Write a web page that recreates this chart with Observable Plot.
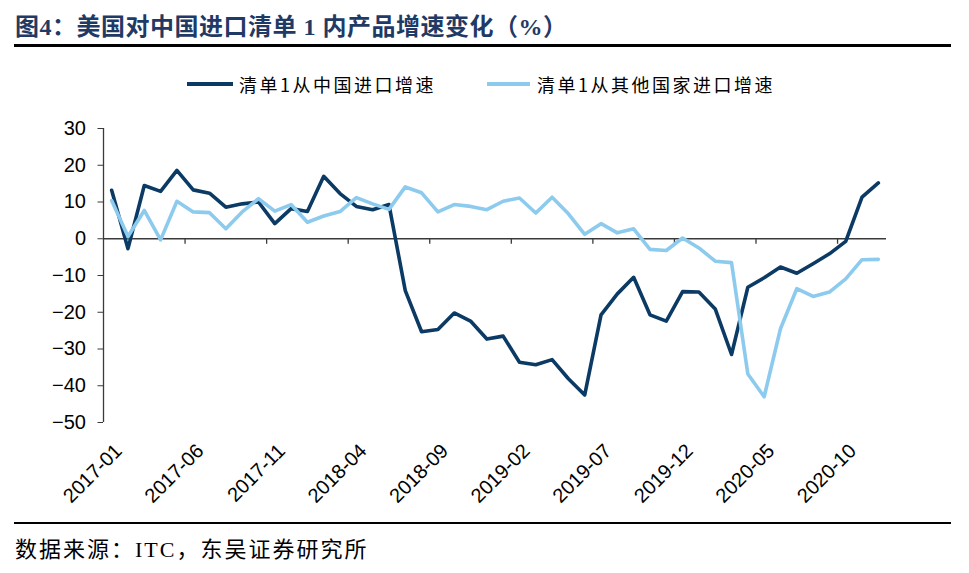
<!DOCTYPE html>
<html>
<head>
<meta charset="utf-8">
<script src="https://cdn.jsdelivr.net/npm/d3@7"></script>
<script src="https://cdn.jsdelivr.net/npm/@observablehq/plot@0.6"></script>
<style>
  html, body { margin: 0; padding: 0; background: #fff; }
  #wrap { position: relative; width: 969px; height: 573px; overflow: hidden; font-family: "Noto Sans CJK SC", sans-serif; }
  #title { position: absolute; left: 15px; top: 7px; font-size: 24px; letter-spacing: 0.5px; font-weight: bold; color: #1f3a64; font-family: "Liberation Serif", "Noto Sans CJK SC", serif; white-space: nowrap; }
  #rule1 { position: absolute; left: 14px; top: 44px; width: 937px; height: 3px; background: #000; }
  #rule2 { position: absolute; left: 14px; top: 522px; width: 937px; height: 2px; background: #000; }
  #caption { position: absolute; left: 15px; top: 531px; font-size: 22px; letter-spacing: 2px; color: #000; font-family: "Liberation Serif", "Noto Sans CJK SC", serif; white-space: nowrap; }
  .lg-line { position: absolute; height: 4px; top: 82px; }
  .lg-text { position: absolute; top: 70px; font-size: 18px; letter-spacing: 2.5px; color: #000; white-space: nowrap; line-height: 28px; }
  #chart { position: absolute; left: 0; top: 108px; }
</style>
</head>
<body>
<div id="wrap">
  <div id="title">图4：美国对中国进口清单 1 内产品增速变化（%）</div>
  <div id="rule1"></div>
  <div id="legend"></div>
  <div id="chart"></div>
  <div id="rule2"></div>
  <div id="caption">数据来源：ITC，东吴证券研究所</div>
</div>
<script>
const months = [
  "2017-01","2017-02","2017-03","2017-04","2017-05","2017-06","2017-07","2017-08","2017-09","2017-10","2017-11","2017-12",
  "2018-01","2018-02","2018-03","2018-04","2018-05","2018-06","2018-07","2018-08","2018-09","2018-10","2018-11","2018-12",
  "2019-01","2019-02","2019-03","2019-04","2019-05","2019-06","2019-07","2019-08","2019-09","2019-10","2019-11","2019-12",
  "2020-01","2020-02","2020-03","2020-04","2020-05","2020-06","2020-07","2020-08","2020-09","2020-10","2020-11","2020-12"
];
const seriesNames = ["清单1从中国进口增速", "清单1从其他国家进口增速"];
const seriesColors = ["#0b3a64", "#8dcbee"];
const chinaGrowth = [
  13.2, -2.7, 14.5, 12.9, 18.6, 13.3, 12.4, 8.6, 9.5, 10.0, 4.1, 8.2,
  7.4, 17.0, 12.3, 8.8, 7.9, 9.3, -14.1, -25.3, -24.7, -20.2, -22.4, -27.3,
  -26.5, -33.6, -34.3, -32.9, -38.1, -42.5, -20.7, -15.0, -10.5, -20.7, -22.4, -14.4,
  -14.5, -19.1, -31.5, -13.2, -10.6, -7.7, -9.4, -6.8, -4.1, -0.7, 11.3, 15.2
];
const otherGrowth = [
  10.4, 0.6, 7.7, -0.3, 10.2, 7.3, 7.1, 2.7, 7.3, 10.9, 7.5, 9.3,
  4.5, 6.2, 7.4, 11.2, 9.5, 8.0, 14.1, 12.5, 7.3, 9.3, 8.8, 7.9,
  10.2, 11.1, 7.0, 11.3, 6.8, 1.2, 4.1, 1.6, 2.7, -2.9, -3.2, 0.2,
  -2.5, -6.1, -6.5, -36.8, -43.0, -24.5, -13.6, -15.7, -14.5, -10.9, -5.7, -5.6
];
const yTicks = [-50, -40, -30, -20, -10, 0, 10, 20, 30];
const xLabelIndex = [0, 5, 10, 15, 20, 25, 30, 35, 40, 45];
const xTickBoundaries = [4.5, 9.5, 14.5, 19.5, 24.5, 29.5, 34.5, 39.5, 44.5];

// legend
const legend = document.getElementById("legend");
const lgPos = [{line: 187, w: 46, text: 239}, {line: 487, w: 43, text: 537}];
seriesNames.forEach((name, k) => {
  const l = document.createElement("div");
  l.className = "lg-line";
  l.style.left = lgPos[k].line + "px";
  l.style.width = lgPos[k].w + "px";
  l.style.background = seriesColors[k];
  legend.appendChild(l);
  const t = document.createElement("div");
  t.className = "lg-text";
  t.style.left = lgPos[k].text + "px";
  t.textContent = name;
  legend.appendChild(t);
});

const axisColor = "#3a3a3a";
const chart = Plot.plot({
  width: 969,
  height: 412,
  marginLeft: 103,
  marginRight: 83,
  marginTop: 20,
  marginBottom: 98,
  style: { fontFamily: "Liberation Sans, Arial, sans-serif", fontSize: "20px", color: "#000", background: "transparent" },
  x: { domain: [-0.5, months.length - 0.5], axis: null },
  y: { domain: [-50, 30], axis: null },
  marks: [
    Plot.ruleX([-0.5], { y1: -50, y2: 30, stroke: axisColor, strokeWidth: 1.3 }),
    Plot.axisY({ ticks: yTicks, tickSize: 5.5, tickPadding: 12, stroke: axisColor, fontSize: 20, fill: "#000" }),
    Plot.ruleY([0], { x1: -0.5, x2: months.length - 0.5, stroke: axisColor, strokeWidth: 1.3 }),
    Plot.ruleX(xTickBoundaries, { x: d => d, y1: 0, y2: -1.5, stroke: axisColor, strokeWidth: 1.3 }),
    Plot.lineY(chinaGrowth, { x: (d, i) => i, y: d => d, stroke: seriesColors[0], strokeWidth: 3.6 }),
    Plot.lineY(otherGrowth, { x: (d, i) => i, y: d => d, stroke: seriesColors[1], strokeWidth: 3.6 }),
    Plot.text(xLabelIndex, {
      x: d => d, y: -50, text: i => months[i],
      rotate: -45, textAnchor: "end", lineAnchor: "middle",
      dx: 7, dy: 25, fontSize: 20, fill: "#000"
    })
  ]
});
document.getElementById("chart").appendChild(chart);
</script>
</body>
</html>
